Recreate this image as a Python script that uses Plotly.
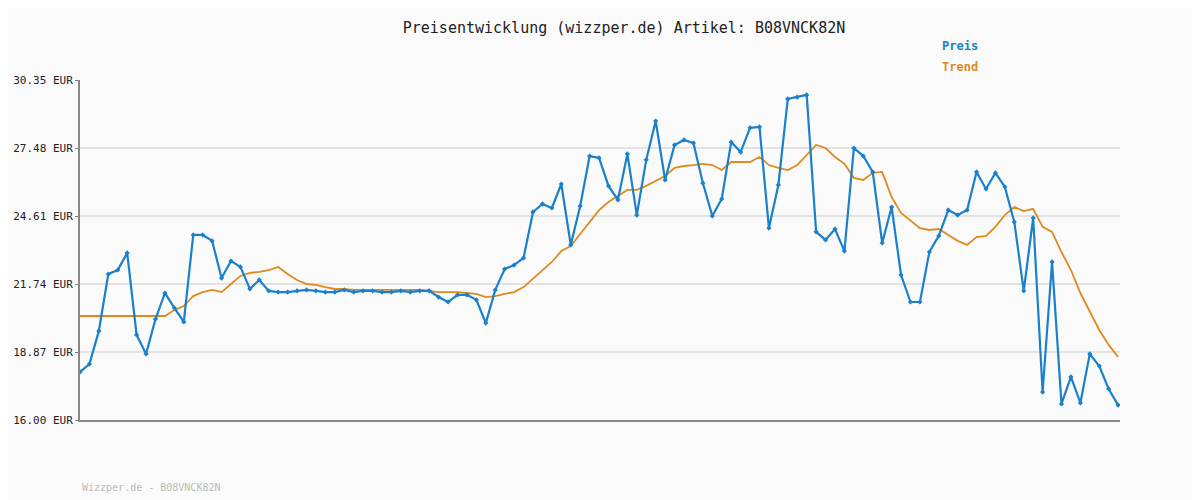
import plotly.graph_objects as go

preis = [
 18.03,18.36,19.76,22.16,22.33,23.05,19.59,18.79,20.26,21.36,
 20.73,20.14,23.81,23.81,23.56,21.99,22.71,22.46,21.53,21.91,
 21.45,21.40,21.40,21.45,21.49,21.45,21.40,21.40,21.49,21.40,
 21.45,21.45,21.40,21.40,21.45,21.40,21.45,21.45,21.19,20.98,
 21.28,21.28,21.07,20.09,21.49,22.37,22.54,22.84,24.78,25.12,
 24.95,25.96,23.39,25.03,27.14,27.06,25.88,25.29,27.23,24.65,
 26.98,28.62,26.13,27.61,27.82,27.69,26.00,24.61,25.33,27.73,
 27.31,28.33,28.37,24.10,25.92,29.55,29.63,29.72,23.94,23.60,
 24.06,23.13,27.48,27.14,26.47,23.47,24.99,22.12,20.98,20.98,
 23.09,23.77,24.86,24.65,24.86,26.47,25.75,26.43,25.84,24.36,
 21.45,24.53,17.18,22.67,16.68,17.82,16.72,18.79,18.28,17.31,
 16.63]
trend = [
 20.39,20.39,20.39,20.39,20.39,20.39,20.39,20.39,20.39,20.39,
 20.64,20.81,21.23,21.40,21.49,21.40,21.74,22.08,22.21,22.25,
 22.33,22.46,22.16,21.91,21.74,21.70,21.61,21.53,21.53,21.49,
 21.49,21.49,21.49,21.49,21.49,21.49,21.49,21.45,21.40,21.40,
 21.40,21.36,21.32,21.19,21.23,21.32,21.40,21.61,21.95,22.33,
 22.67,23.13,23.34,23.85,24.36,24.86,25.20,25.46,25.71,25.71,
 25.88,26.09,26.30,26.64,26.72,26.76,26.81,26.76,26.55,26.89,
 26.89,26.89,27.10,26.76,26.64,26.55,26.76,27.19,27.61,27.48,
 27.10,26.81,26.22,26.13,26.43,26.47,25.41,24.74,24.40,24.10,
 24.02,24.06,23.81,23.56,23.39,23.72,23.77,24.15,24.65,24.99,
 24.82,24.91,24.15,23.94,23.09,22.33,21.36,20.56,19.80,19.17,
 18.66]
yticks = [16.00, 18.87, 21.74, 24.61, 27.48, 30.35]
ylabels = [f"{v:.2f} EUR" for v in yticks]
x = list(range(len(preis)))

mono = "DejaVu Sans Mono"
fig = go.Figure()
fig.add_trace(go.Scatter(x=x, y=trend, mode="lines", line=dict(color="#e08a1e", width=1.8), name="Trend"))
fig.add_trace(go.Scatter(x=x, y=preis, mode="lines+markers", line=dict(color="#1a80cc", width=2.2),
                         marker=dict(symbol="diamond", size=4, color="#1a80cc"), name="Preis"))
fig.update_layout(
    width=1200, height=500, paper_bgcolor="#fafafa", plot_bgcolor="#fafafa",
    margin=dict(l=72, r=88, t=72, b=88, autoexpand=False), showlegend=False,
    font=dict(family=mono, size=12, color="#333"),
    title=dict(text="Preisentwicklung (wizzper.de) Artikel: B08VNCK82N", x=616/1200, y=1-20/500,
               xanchor="center", yanchor="middle", yref="container", automargin=False,
               font=dict(family=mono, size=15, color="#222")),
    xaxis=dict(range=[0, 110.2], showgrid=False, showticklabels=False, zeroline=False,
               showline=True, linecolor="#888", linewidth=2, ticks="", automargin=False),
    yaxis=dict(range=[16, 30.35], tickvals=yticks, ticktext=ylabels, showgrid=True,
               gridcolor="#e3e3e3", gridwidth=2, zeroline=False, showline=True, automargin=False,
               linecolor="#888", linewidth=2, ticks="outside", ticklen=3, tickcolor="#888",
               tickfont=dict(family=mono, size=11, color="#222")),
)
anns = [
    dict(text="<b>Preis</b>", x=(940-80)/1040, y=(500-80-46)/340, xref="paper", yref="paper",
         xanchor="left", yanchor="middle", showarrow=False, font=dict(family=mono, size=12, color="#1a80cc")),
    dict(text="<b>Trend</b>", x=(940-80)/1040, y=(500-80-67)/340, xref="paper", yref="paper",
         xanchor="left", yanchor="middle", showarrow=False, font=dict(family=mono, size=12, color="#e08a1e")),
    dict(text="Wizzper.de - B08VNCK82N", x=0, y=(500-80-487)/340, xref="paper", yref="paper",
         xanchor="left", yanchor="middle", showarrow=False, font=dict(family=mono, size=10, color="#bbb")),
]
fig.update_layout(annotations=anns)
fig.write_html("out.html")
